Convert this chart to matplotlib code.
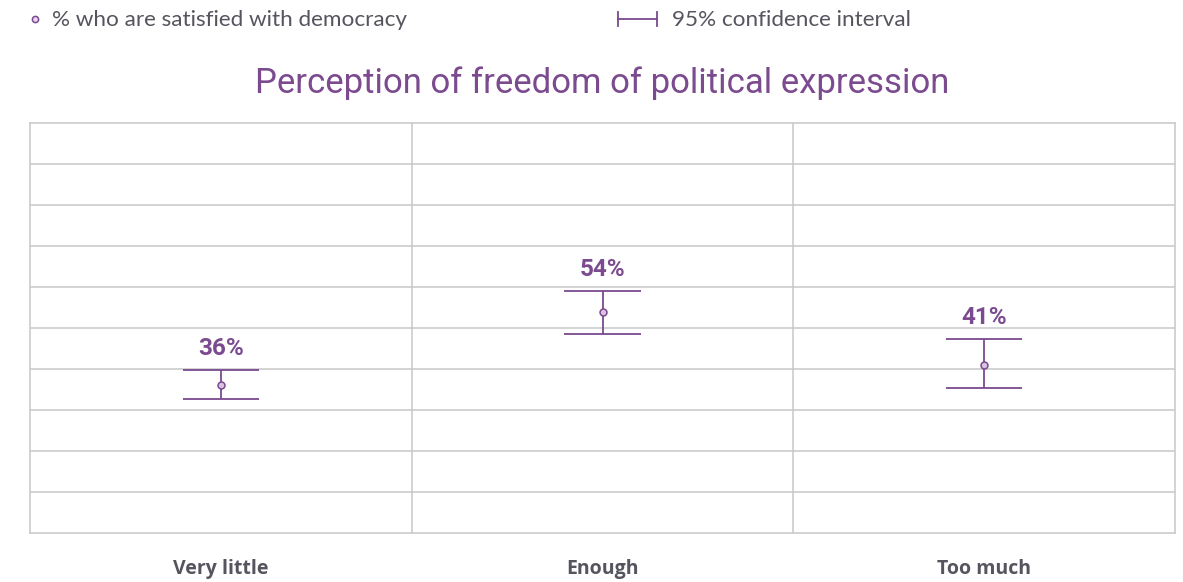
import matplotlib
matplotlib.use("Agg")
import matplotlib.pyplot as plt
from matplotlib.lines import Line2D

categories = ["Very little", "Enough", "Too much"]
values = [36, 54, 41]
ci_low = [32.7, 48.5, 35.4]
ci_high = [39.8, 59.0, 47.3]
labels = ["36%", "54%", "41%"]

PURPLE = "#7B4A8F"
GRID = "#C8C8C8"
TEXT = "#55555F"

W, H = 1183, 582
fig = plt.figure(figsize=(W / 100, H / 100), dpi=100)
ax = fig.add_axes([30 / W, 1 - 533 / H, (1175 - 30) / W, (533 - 123) / H])

x = [i + 0.5 for i in range(len(categories))]
ax.set_xlim(0, len(categories))
ax.set_ylim(0, 100)

for yv in range(10, 100, 10):
    ax.axhline(yv, color=GRID, lw=1.1, zorder=0)
for xv in range(1, len(categories)):
    ax.axvline(xv, color=GRID, lw=1.1, zorder=0)
for s in ax.spines.values():
    s.set_color(GRID)
    s.set_linewidth(1.1)

cap = 0.1
for xi, v, lo, hi, lab in zip(x, values, ci_low, ci_high, labels):
    ax.vlines(xi, lo, hi, color=PURPLE, lw=1.3, zorder=3)
    ax.hlines([lo, hi], xi - cap, xi + cap, color=PURPLE, lw=1.3, zorder=3)
    ax.plot(xi, v, "o", ms=5, mfc="#D9C3E0", mec=PURPLE, mew=1.1, zorder=4)
    ax.annotate(lab, (xi, hi), xytext=(0, 7), textcoords="offset points",
                ha="center", va="bottom", color=PURPLE, fontsize=17.5,
                fontweight="bold", family="Roboto")

ax.set_xticks(x)
ax.set_xticklabels(categories, fontsize=14, fontweight="bold", color=TEXT,
                   family="Open Sans")
ax.tick_params(axis="x", length=0, pad=19)
ax.set_yticks([])

fig.text(602 / W, 1 - 83 / H, "Perception of freedom of political expression",
         ha="center", va="center", fontsize=25, color=PURPLE, family="Roboto")

# legend
fig.add_artist(Line2D([35 / W], [1 - 19 / H], marker="o", ms=4.5, mfc="#E6D6EB",
                      mec=PURPLE, mew=1.1, transform=fig.transFigure))
fig.text(52 / W, 1 - 20 / H, "% who are satisfied with democracy", ha="left",
         va="center", fontsize=16.2, color=TEXT, family="Lato")
fig.add_artist(Line2D([618 / W, 657 / W], [1 - 19 / H] * 2, color=PURPLE, lw=1.3,
                      transform=fig.transFigure))
for xe in (618, 657):
    fig.add_artist(Line2D([xe / W] * 2, [1 - 12 / H, 1 - 26 / H], color=PURPLE,
                          lw=1.3, transform=fig.transFigure))
fig.text(672 / W, 1 - 20 / H, "95% confidence interval", ha="left",
         va="center", fontsize=16.2, color=TEXT, family="Lato")

fig.savefig("out.png", dpi=100, facecolor="white")
